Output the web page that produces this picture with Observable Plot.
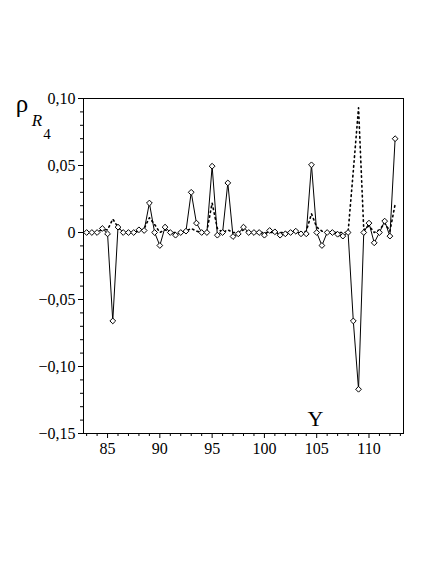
<!DOCTYPE html>
<html><head><meta charset="utf-8">
<script src="https://cdn.jsdelivr.net/npm/d3@7"></script>
<script src="https://cdn.jsdelivr.net/npm/@observablehq/plot@0.6"></script>
<style>body{margin:0;background:#fff} #chart{width:436px;height:564px} #chart svg text{font-family:"Liberation Serif",serif}</style>
</head><body><div id="chart"></div>
<script>
const xs = [83,83.5,84,84.5,85,85.5,86,86.5,87,87.5,88,88.5,89,89.5,90,90.5,91,91.5,92,92.5,
  93,93.5,94,94.5,95,95.5,96,96.5,97,97.5,98,98.5,99,99.5,100,100.5,101,101.5,102,102.5,
  103,103.5,104,104.5,105,105.5,106,106.5,107,107.5,108,108.5,109,109.5,110,110.5,111,111.5,112,112.5];
const solidValues = [0,0,0,0.003,-0.001,-0.066,0.004,0,0,0,0.002,0.0015,0.022,0,-0.0097,0.004,0,-0.002,0,0.001,
  0.030,0.007,0,0,0.0495,-0.002,0,0.037,-0.003,-0.001,0.004,0,0,0,-0.002,0.0015,0.0005,-0.002,-0.001,0,
  0.001,-0.001,-0.001,0.0505,0,-0.0097,0,0,-0.0013,-0.0027,0,-0.066,-0.117,0,0.007,-0.0077,0,0.0085,-0.0027,0.070];
const dottedValues = [0,0,0,0.002,0.002,0.010,0.004,0,0,0,0.001,0.003,0.011,0.006,0,0.002,0,0,0,0.001,
  0.003,0.001,0,0.001,0.022,0.003,0,0.002,0,0,0.002,0,0,0,0,0,0,0,0,0,
  0,0,0.001,0.014,0.004,0.001,0,0,0,0,0,0.046,0.093,0.002,0.005,0,0.002,0.007,0.001,0.021];
const xMajorTicks = [85,90,95,100,105,110];
const xMinorTicks = [83,84,86,87,88,89,91,92,93,94,96,97,98,99,101,102,103,104,106,107,108,109,111,112,113];
const yMajorTicks = [-0.15,-0.10,-0.05,0,0.05,0.10];
const yMinorTicks = [-0.14,-0.13,-0.12,-0.11,-0.09,-0.08,-0.07,-0.06,-0.04,-0.03,-0.02,-0.01,0.01,0.02,0.03,0.04,0.06,0.07,0.08,0.09];

const solid = xs.map((x,i)=>({x, y: solidValues[i]}));
const dotted = xs.map((x,i)=>({x, y: dottedValues[i]}));
const fmt = v => Math.abs(v) < 1e-9 ? "0" : (v < 0 ? "\u2212" : "") + Math.abs(v).toFixed(2).replace(".", ",");
const serif = "Liberation Serif";

const chart = Plot.plot({
  width: 436, height: 564,
  marginLeft: 83, marginRight: 33, marginTop: 98, marginBottom: 131,
  style: {fontFamily: serif, fontSize: "16px", color: "black", background: "white"},
  x: {domain: [82.7, 113.3]},
  y: {domain: [-0.15, 0.10]},
  marks: [
    Plot.axisX({ticks: xMajorTicks, tickSize: 5, tickPadding: 4, label: null, tickFormat: d => String(d), fontFamily: serif, fontSize: 16}),
    Plot.axisX({ticks: xMinorTicks, tickSize: 3, label: null, tickFormat: () => ""}),
    Plot.axisY({ticks: yMajorTicks, tickSize: 5, tickPadding: 3, label: null, tickFormat: fmt, fontFamily: serif, fontSize: 16}),
    Plot.axisY({ticks: yMinorTicks, tickSize: 3, label: null, tickFormat: () => ""}),
    Plot.frame({stroke: "black", strokeWidth: 1}),
    Plot.line(dotted, {x: "x", y: "y", stroke: "black", strokeWidth: 1.6, strokeDasharray: "1.5,3.4"}),
    Plot.line(solid, {x: "x", y: "y", stroke: "black", strokeWidth: 1}),
    Plot.dot(solid, {x: "x", y: "y", symbol: "diamond2", r: 2.6, fill: "white", stroke: "black", strokeWidth: 1}),
    Plot.text(["Y"], {frameAnchor: "bottom-right", dx: -88, dy: -8, fontSize: 22, fontFamily: serif, textAnchor: "middle", lineAnchor: "bottom"})
  ]
});
const svg = d3.select(chart);
const lab = svg.append("g").attr("font-family", serif).attr("fill", "black");
lab.append("text").attr("x", 22).attr("y", 112).attr("font-size", 25).text("ρ");
lab.append("text").attr("x", 37).attr("y", 126).attr("font-size", 17).attr("font-style", "italic").text("R");
lab.append("text").attr("x", 47).attr("y", 139).attr("font-size", 15).text("4");
document.getElementById("chart").appendChild(chart);
</script>
</body></html>
